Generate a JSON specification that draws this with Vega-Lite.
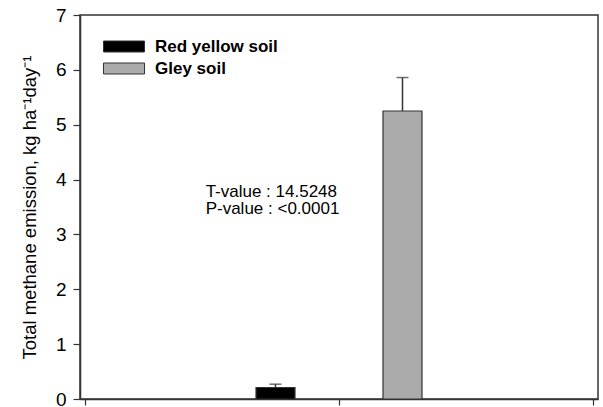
{
  "$schema": "https://vega.github.io/schema/vega-lite/v6.json",
  "width": 518,
  "height": 384,
  "autosize": "none",
  "padding": {"left": 80, "top": 15, "right": 5, "bottom": 8},
  "background": "white",
  "config": {
    "font": "Liberation Sans",
    "view": {"stroke": "#333333", "strokeWidth": 1.5},
    "axis": {"domainColor": "#333333", "tickColor": "#333333", "domainWidth": 1.5, "tickWidth": 1.2, "grid": false, "labelColor": "#000000", "titleColor": "#000000"}
  },
  "datasets": {
    "bars": [
      {"soil": "Red yellow soil", "pos": 1.5, "value": 0.21, "upper": 0.27},
      {"soil": "Gley soil", "pos": 2.5, "value": 5.25, "upper": 5.86}
    ],
    "notes": [
      {"label": "T-value : 14.5248", "tx": 0.95, "ty": 3.69},
      {"label": "P-value : <0.0001", "tx": 0.95, "ty": 3.37}
    ]
  },
  "layer": [
    {
      "data": {"name": "bars"},
      "mark": {"type": "rule", "color": "#333333", "strokeWidth": 1.5},
      "encoding": {
        "x": {"field": "pos", "type": "quantitative", "scale": {"domain": [0, 4]}},
        "y": {"field": "value", "type": "quantitative"},
        "y2": {"field": "upper"}
      }
    },
    {
      "data": {"name": "bars"},
      "mark": {"type": "tick", "orient": "horizontal", "size": 12, "thickness": 1.5, "color": "#333333"},
      "encoding": {
        "x": {"field": "pos", "type": "quantitative"},
        "y": {"field": "upper", "type": "quantitative"}
      }
    },
    {
      "data": {"name": "bars"},
      "mark": {"type": "bar", "size": 39, "stroke": "#333333", "strokeWidth": 1.2},
      "encoding": {
        "x": {"field": "pos", "type": "quantitative", "scale": {"domain": [0, 4], "nice": false},
          "axis": {"title": null, "values": [0, 2, 4], "labels": false, "tickSize": 6, "domain": true}},
        "y": {"field": "value", "type": "quantitative",
          "scale": {"domain": [0, 7], "nice": false},
          "axis": {"title": "Total methane emission, kg ha⁻¹day⁻¹", "values": [0, 1, 2, 3, 4, 5, 6, 7], "format": "d",
            "labelFontSize": 19, "labelPadding": 7, "tickSize": 7, "titleFontSize": 18.5, "titleFontWeight": "normal",
            "titleX": -51, "titleBaseline": "middle"}},
        "color": {"field": "soil", "type": "nominal",
          "scale": {"domain": ["Red yellow soil", "Gley soil"], "range": ["#000000", "#aaaaaa"]},
          "legend": {"title": null, "orient": "none", "legendX": 33.5, "legendY": 21, "padding": 0,
            "symbolType": "M-2.05,-0.55L2.05,-0.55L2.05,0.55L-2.05,0.55Z", "symbolSize": 400,
            "symbolStrokeColor": "#333333", "symbolStrokeWidth": 1,
            "labelFontSize": 17, "labelFontWeight": "bold", "labelOffset": 20.5, "rowPadding": 3, "labelColor": "#000000"}}
      }
    },
    {
      "data": {"name": "notes"},
      "mark": {"type": "text", "align": "left", "baseline": "alphabetic", "fontSize": 17, "color": "#000000"},
      "encoding": {
        "x": {"field": "tx", "type": "quantitative"},
        "y": {"field": "ty", "type": "quantitative"},
        "text": {"field": "label"}
      }
    }
  ]
}
